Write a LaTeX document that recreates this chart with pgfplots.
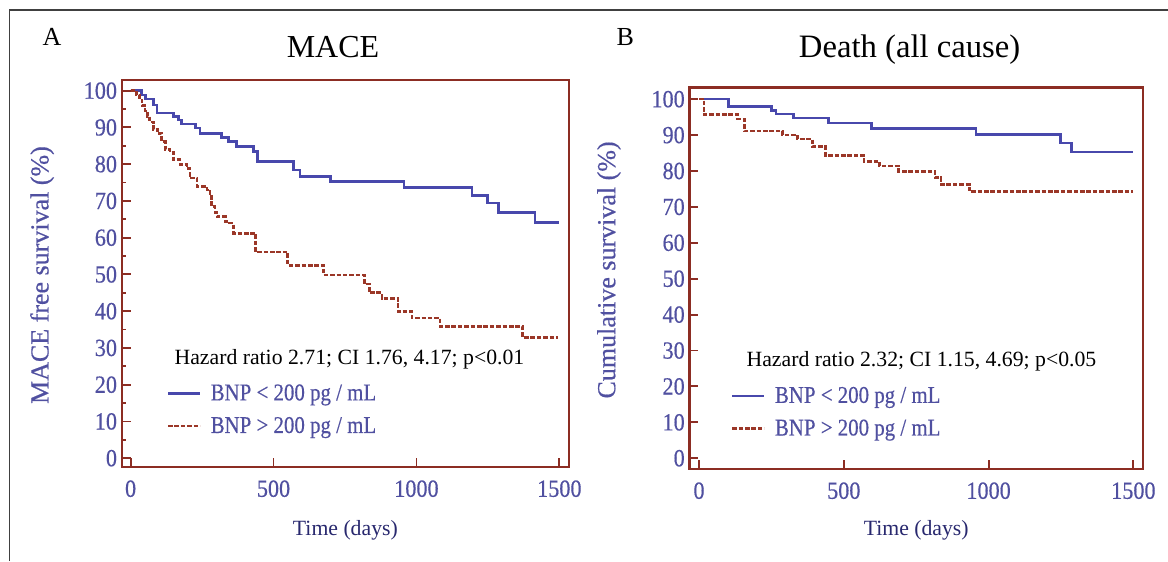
\documentclass[border=0pt]{standalone}
\usepackage{pgfplots}
\pgfplotsset{compat=1.18}
\usepackage{fontspec}
\setmainfont{Liberation Serif}
\newfontfamily\tickfont[FakeStretch=0.9, FakeBold=0.4]{Liberation Serif}
\newfontfamily\legfont[FakeStretch=0.87, FakeBold=0.4]{Liberation Serif}
\newfontfamily\labfont[FakeBold=0.5]{Liberation Serif}
\definecolor{axisred}{RGB}{140,45,35}
\definecolor{curveblue}{RGB}{72,72,172}
\definecolor{curvered}{RGB}{155,55,40}
\definecolor{tickblue}{RGB}{80,80,160}
\definecolor{navy}{RGB}{40,40,110}

\pgfplotstableread{
t S
0 100
39 98.8
51 97.7
80 96.1
92 93.9
150 92.9
167 92.0
179 90.9
226 89.8
243 88.4
319 87.3
342 86.1
371 84.8
430 83.4
445 80.7
570 78.4
593 76.6
700 75.2
957 73.6
1194 71.4
1249 69.4
1287 66.8
1415 64.1
1499 64.1
}\maceLow

\pgfplotstableread{
t S
0 100
20 98.8
30 97.5
40 96.0
50 94.5
58 93.0
66 91.5
80 89.5
95 88.4
109 86.1
121 84.0
138 83.3
150 81.2
173 79.9
197 78.9
208 76.2
232 73.9
267 73.0
278 71.6
284 68.4
295 66.8
302 65.7
331 64.4
345 64.0
360 61.2
438 56.1
550 52.5
675 49.8
818 47.4
835 45.0
879 43.5
935 39.9
984 38.1
1083 35.8
1372 32.9
1497 32.9
}\maceHigh

\pgfplotstableread{
t S
0 100
101 98.0
251 96.8
266 95.9
326 94.8
446 93.4
596 91.9
956 90.1
1248 87.8
1286 85.3
1499 85.3
}\deathLow

\pgfplotstableread{
t S
0 100
17 95.7
133 94.5
157 91.1
288 90.0
339 88.9
391 86.8
437 84.3
570 82.7
623 81.4
690 79.9
815 78.1
836 76.2
935 74.2
1499 74.2
}\deathHigh

\pgfplotsset{
  km/.style={
    scale only axis,
    anchor=south west,
    axis line style={draw=axisred, line width=1.8pt},
    tick style={draw=axisred, line width=1.4pt},
    tick align=inside,
    xtick pos=bottom, ytick pos=left,
    major tick length=6.75pt,
    minor tick length=3.5pt,
    xtick={0,500,1000,1500},
    ytick={0,10,...,100},
    tick label style={font=\tickfont\fontsize{18.5}{20}\selectfont, text=tickblue},
    xticklabel style={yshift=-6.5pt},
    /pgf/number format/assume math mode=true,
    /pgf/number format/1000 sep={},
    xlabel style={font=\fontsize{16.3}{19}\selectfont, text=navy, anchor=center},
    ylabel style={font=\labfont\fontsize{19.5}{22}\selectfont, text=tickblue, anchor=center},
    legend style={draw=none, fill=none, anchor=north west,
      font=\legfont\fontsize{18}{20}\selectfont, text=tickblue,
      row sep=7pt, legend cell align=left,
      /tikz/every odd column/.append style={column sep=5pt}},
    legend image code/.code={\draw[#1] (0pt,0pt) -- (24pt,0pt);},
    clip=false,
  },
  blueline/.style={const plot, color=curveblue, line width=2pt},
  redline/.style={const plot, color=curvered, line width=2pt, dash pattern=on 3.4pt off 1.4pt},
}

\begin{document}
\begin{tikzpicture}
\useasboundingbox (0,0) rectangle (876pt,-420.75pt);
\draw[black!75, line width=1.1pt] (7.2pt,-420.75pt) -- (7.2pt,-7.5pt) -- (876pt,-7.5pt);

\node[anchor=base west, font=\fontsize{19.5}{22}\selectfont] at (28.5pt,-33.75pt) {A};
\node[anchor=base, font=\fontsize{24}{28}\selectfont] at (249.75pt,-42.75pt) {MACE};
\node[anchor=base west, font=\fontsize{19.5}{22}\selectfont] at (459pt,-33.75pt) {B};
\node[anchor=base, font=\fontsize{24.5}{28}\selectfont] at (682.2pt,-43pt) {Death (all cause)};

\begin{axis}[km,
  at={(91.3pt,-350.25pt)},
  width=335.5pt, height=290.25pt,
  xmin=-31, xmax=1534, ymin=-2.4, ymax=102.9,
  minor y tick num=1,
  xlabel={Time (days)},
  xlabel style={at={(axis description cs:0.5,-0.163)}},
  ylabel={MACE free survival (\%)},
  ylabel style={at={(axis description cs:-0.178,0.496)}},
  legend style={at={(axis description cs:0.091,0.228)}},
]
\addplot[blueline] table[x=t, y=S] {\maceLow};
\addlegendentry{BNP < 200 pg / mL}
\addplot[redline] table[x=t, y=S] {\maceHigh};
\addlegendentry{BNP > 200 pg / mL}
\end{axis}

\begin{axis}[km,
  at={(517.1pt,-351.75pt)},
  width=340.1pt, height=286pt,
  xmin=-33, xmax=1533, ymin=-3, ymax=103.2,
  xlabel={Time (days)},
  xlabel style={at={(axis description cs:0.5,-0.16)}},
  ylabel={Cumulative survival (\%)},
  ylabel style={at={(axis description cs:-0.1775,0.522)}},
  legend style={at={(axis description cs:0.082,0.230)}},
]
\addplot[blueline] table[x=t, y=S] {\deathLow};
\addlegendentry{BNP < 200 pg / mL}
\addplot[redline] table[x=t, y=S] {\deathHigh};
\addlegendentry{BNP > 200 pg / mL}
\end{axis}

\node[anchor=base, font=\fontsize{16.3}{19}\selectfont] at (262.1pt,-273.5pt) {Hazard ratio 2.71; CI 1.76, 4.17; p<0.01};
\node[anchor=base, font=\fontsize{16.3}{19}\selectfont] at (691.1pt,-274.5pt) {Hazard ratio 2.32; CI 1.15, 4.69; p<0.05};
\end{tikzpicture}
\end{document}
